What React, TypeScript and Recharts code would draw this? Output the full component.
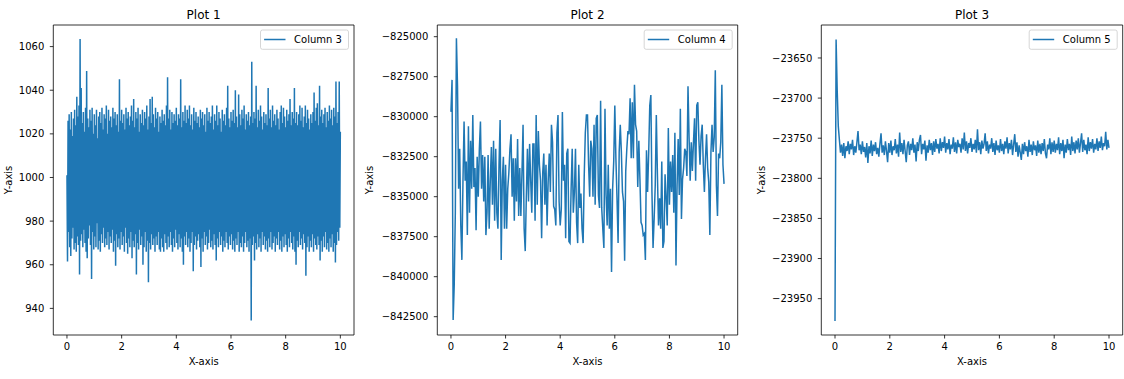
import { LineChart, Line, XAxis, YAxis, ReferenceArea } from 'recharts';

// evenly spaced x grid (0 .. 10); column 3 is sampled twice as finely
const COL3_STEP = 0.02;
const COL4_STEP = 0.04;
const COL5_STEP = 0.04;
const xTicks = [0, 2, 4, 6, 8, 10];

const col3 = [
  1001, 961.5, 1026, 975, 1029, 968, 1022, 964, 1030, 972, 1019, 977, 1027, 967, 1031, 970, 1024, 966, 1037, 973,
  1028, 969, 1033, 955.5, 1063.5, 971, 1041, 974, 1025, 968, 1030, 976, 1021, 970, 1032, 966, 1048.8, 963, 1027, 972,
  1023, 978, 1031, 969, 1026, 953.5, 1032, 975, 1020, 967, 1029, 973, 1024, 968, 1031, 979, 1018, 967, 1028, 971,
  1030, 966, 1025, 974, 1032, 970, 1022, 977, 1029, 968, 1027, 972, 1033, 969, 1020, 975, 1031, 967, 1026, 973,
  1028, 970, 1023, 976, 1032, 966, 1027, 971, 1030, 959.5, 1024, 974, 1029, 968, 1021, 972, 1045, 967, 1026, 975,
  1031, 969, 1025, 973, 1029, 966, 1022, 977, 1032, 970, 1027, 965, 1030, 972, 1024, 968, 1028, 975, 1033, 963,
  1026, 971, 1036, 968, 1023, 974, 1030, 955.5, 1027, 970, 1032, 967, 1021, 976, 1029, 969, 1025, 973, 1031, 960,
  1024, 968, 1030, 975, 1027, 966, 1033, 971, 1022, 952, 1028, 970, 1036, 967, 1025, 974, 1037, 969, 1029, 972,
  1023, 966, 1032, 973, 1027, 969, 1030, 975, 1021, 967, 1028, 966, 1025, 972, 1031, 968, 1026, 966, 1029, 974,
  1024, 970, 1033, 967, 1046, 973, 1027, 968, 1031, 975, 1022, 969, 1030, 966, 1025, 972, 1029, 968, 1026, 976,
  1032, 970, 1024, 967, 1029, 974, 1027, 968, 1045, 972, 1023, 966, 1030, 960, 1026, 973, 1033, 969, 1025, 975,
  1031, 968, 1027, 972, 1033, 966, 1024, 970, 1029, 975, 1022, 957, 1032, 969, 1026, 973, 1030, 967, 1025, 971,
  1028, 974, 1023, 968, 1031, 959, 1027, 972, 1030, 966, 1024, 975, 1029, 969, 1021, 973, 1032, 967, 1026, 970,
  1030, 976, 1025, 968, 1028, 971, 1033, 967, 1022, 974, 1029, 969, 1026, 962, 1033, 972, 1024, 968, 1030, 975,
  1027, 969, 1021, 973, 1031, 966, 1026, 971, 1029, 968, 1024, 975, 1032, 970, 1042, 967, 1027, 973, 1023, 969,
  1030, 974, 1026, 967, 1031, 971, 1025, 966, 1040, 972, 1028, 969, 1023, 975, 1038, 966, 1029, 970, 1024, 968,
  1031, 973, 1027, 966, 1033, 970, 1022, 975, 1029, 968, 1026, 971, 1030, 966, 1024, 972, 1028, 934.5, 1053, 969,
  1025, 973, 1030, 962, 1027, 970, 1042, 967, 1023, 974, 1031, 968, 1026, 972, 1033, 966, 1028, 975, 1022, 969,
  1030, 973, 1025, 967, 1029, 971, 1024, 966, 1041, 972, 1027, 968, 1031, 975, 1023, 967, 1033, 970, 1026, 973,
  1029, 966, 1024, 972, 1031, 969, 1027, 975, 1022, 967, 1030, 971, 1033, 966, 1025, 973, 1032, 968, 1028, 974,
  1023, 969, 1031, 966, 1026, 972, 1029, 968, 1036, 975, 1024, 970, 1030, 967, 1027, 973, 1041, 966, 1025, 960,
  1030, 971, 1024, 968, 1029, 975, 1033, 969, 1026, 972, 1032, 967, 1023, 974, 1028, 970, 1033, 955, 1025, 968,
  1031, 973, 1027, 966, 1022, 971, 1029, 968, 1025, 974, 1030, 966, 1039, 972, 1026, 969, 1032, 967, 1034, 973,
  1024, 969, 1042, 962, 1028, 971, 1031, 966, 1025, 973, 1029, 968, 1032, 975, 1023, 967, 1030, 970, 1026, 966,
  1033, 972, 1027, 968, 1031, 974, 1024, 966, 1032, 970, 1028, 961, 1044, 969, 1025, 975, 1030, 971, 1044, 977,
  1021,
];
const col3Ticks = [940, 960, 980, 1000, 1020, 1040, 1060];

const col4 = [
  -829700, -827700, -842700, -840500, -836000, -825100, -828100, -834500, -832000, -836800,
  -838950, -834000, -830300, -834000, -832800, -837400, -830600, -836000, -831500, -834500,
  -829900, -834400, -833200, -837100, -832500, -835000, -832000, -830300, -834500, -832400,
  -835300, -832500, -837400, -836000, -832400, -837000, -834000, -831900, -835500, -831500,
  -836500, -832000, -836000, -837000, -833000, -830200, -838950, -834000, -832500, -837000,
  -833000, -837000, -834500, -833500, -832000, -831100, -835000, -832600, -836500, -832600,
  -835300, -831400, -836200, -833200, -836200, -833500, -830500, -837000, -838400, -835000,
  -832000, -835300, -831700, -834000, -836000, -831700, -831700, -836500, -829900, -835500,
  -830900, -833000, -834000, -837600, -833500, -832300, -835500, -833000, -836800, -834000,
  -832300, -834700, -830500, -831600, -835600, -835800, -836800, -831000, -829900, -835300,
  -836800, -835800, -829700, -834000, -833000, -837600, -832300, -832000, -837800, -837900,
  -834500, -832000, -836000, -834700, -832000, -836600, -837900, -833000, -835700, -834800,
  -837000, -837900, -833700, -831000, -829900, -829900, -833000, -835000, -831500, -832000,
  -835000, -830500, -835500, -830100, -829900, -834900, -835700, -829000, -835700, -837000,
  -838200, -829500, -834900, -836800, -833000, -837000, -834500, -839700, -834500, -832800,
  -829300, -832600, -835100, -837900, -832200, -830500, -832200, -834700, -835300, -839000,
  -833400, -832000, -830900, -831100, -828850, -832600, -829100, -832600, -828000, -830500,
  -830900, -834400, -831500, -833900, -836600, -836800, -837400, -837300, -838950, -832100,
  -834700, -832300, -829300, -828650, -834700, -838200, -836400, -834300, -829900, -833600,
  -836800, -835100, -837000, -832800, -838200, -837800, -833600, -835100, -836800, -830700,
  -835500, -832800, -834700, -832400, -836000, -831000, -839300, -834300, -831400, -834900,
  -829500, -836400, -833900, -833200, -832000, -832200, -833700, -828100, -831300, -834000,
  -831600, -833400, -831600, -830100, -834000, -829300, -829100, -831500, -833000, -831200,
  -830500, -833000, -834700, -832600, -831100, -833200, -834100, -837400, -832200, -830500,
  -832200, -831300, -827100, -834300, -836200, -832300, -832600, -831600, -828000, -833000,
  -834200,
];
const col4Ticks = [-842500, -840000, -837500, -835000, -832500, -830000, -827500, -825000];

const col5 = [
  -23978, -23627, -23690, -23735, -23752, -23768, -23758, -23772, -23756, -23775,
  -23760, -23766, -23754, -23770, -23757, -23764, -23752, -23771, -23760, -23768,
  -23755, -23741, -23765, -23758, -23770, -23754, -23767, -23761, -23774, -23756,
  -23781, -23760, -23769, -23753, -23772, -23758, -23766, -23755, -23770, -23762,
  -23773, -23757, -23744, -23768, -23759, -23771, -23754, -23766, -23780, -23756,
  -23768, -23753, -23771, -23760, -23765, -23751, -23769, -23758, -23773, -23743,
  -23767, -23756, -23770, -23752, -23766, -23780, -23759, -23754, -23771, -23757,
  -23765, -23750, -23768, -23758, -23779, -23755, -23766, -23752, -23746, -23770,
  -23757, -23764, -23753, -23778, -23759, -23768, -23752, -23765, -23756, -23771,
  -23754, -23767, -23751, -23763, -23757, -23769, -23750, -23766, -23755, -23762,
  -23748, -23768, -23756, -23764, -23751, -23770, -23758, -23763, -23749, -23767,
  -23755, -23769, -23752, -23761, -23757, -23768, -23750, -23764, -23743, -23766,
  -23754, -23769, -23756, -23762, -23750, -23767, -23757, -23764, -23752, -23768,
  -23739, -23765, -23755, -23770, -23753, -23763, -23757, -23744, -23766, -23754,
  -23769, -23758, -23763, -23750, -23767, -23756, -23771, -23753, -23765, -23759,
  -23768, -23751, -23766, -23757, -23770, -23754, -23763, -23749, -23769, -23756,
  -23764, -23752, -23771, -23758, -23745, -23767, -23755, -23773, -23759, -23768,
  -23777, -23757, -23770, -23755, -23766, -23760, -23773, -23752, -23767, -23758,
  -23771, -23754, -23765, -23759, -23772, -23753, -23768, -23757, -23770, -23756,
  -23766, -23751, -23769, -23775, -23758, -23764, -23750, -23770, -23755, -23767,
  -23753, -23768, -23757, -23765, -23749, -23770, -23756, -23766, -23752, -23775,
  -23758, -23768, -23751, -23765, -23757, -23771, -23748, -23766, -23755, -23769,
  -23753, -23764, -23750, -23768, -23756, -23744, -23767, -23752, -23765, -23758,
  -23770, -23749, -23766, -23755, -23763, -23751, -23768, -23757, -23764, -23750,
  -23766, -23754, -23762, -23748, -23765, -23756, -23760, -23742, -23764, -23752,
  -23762,
];
const col5Ticks = [-23950, -23900, -23850, -23800, -23750, -23700, -23650];

const BLUE = '#1f77b4';
const FONT = '"DejaVu Sans", "Liberation Sans", sans-serif';
const HEIGHT = 379;
const TOP = 25;
const BOTTOM = 335;

const panels = [
  { title: 'Plot 1', name: 'Column 3', values: col3, step: COL3_STEP, ticks: col3Ticks, domain: [927.8, 1069.9], left: 0, width: 370, yAxisWidth: 53.3, marginRight: 16, yLabelX: 11.7 },
  { title: 'Plot 2', name: 'Column 4', values: col4, step: COL4_STEP, ticks: col4Ticks, domain: [-843644, -824269], left: 370, width: 375, yAxisWidth: 67.3, marginRight: 7.3, yLabelX: 373 },
  { title: 'Plot 3', name: 'Column 5', values: col5, step: COL5_STEP, ticks: col5Ticks, domain: [-23995.3, -23608.9], left: 745, width: 379, yAxisWidth: 76.3, marginRight: 1.3, yLabelX: 765 },
];

const fmt = (v: number) => (v < 0 ? '\u2212' + Math.abs(v) : String(v));

function Panel({ p }: { p: typeof panels[number] }) {
  const data = p.values.map((v, i) => ({ x: +(i * p.step).toFixed(2), y: v }));
  const tickStyle = { fill: '#000', fontSize: 10, fontFamily: FONT };
  return (
    <div style={{ position: 'absolute', left: p.left, top: 0 }}>
      <LineChart
        width={p.width}
        height={HEIGHT}
        data={data}
        margin={{ top: TOP, right: p.marginRight, bottom: HEIGHT - BOTTOM - 22, left: 0 }}
      >
        <XAxis
          type="number"
          dataKey="x"
          domain={[-0.5, 10.5]}
          allowDataOverflow
          ticks={xTicks}
          interval={0}
          axisLine={false}
          tickLine={{ stroke: '#000', strokeWidth: 0.8 }}
          tickSize={3.5}
          tickMargin={4.5}
          tick={tickStyle}
          height={22}
        />
        <YAxis
          type="number"
          dataKey="y"
          domain={p.domain}
          allowDataOverflow
          ticks={p.ticks}
          interval={0}
          axisLine={false}
          tickLine={{ stroke: '#000', strokeWidth: 0.8 }}
          tickSize={3.5}
          tickMargin={5.5}
          tick={tickStyle}
          tickFormatter={fmt}
          width={p.yAxisWidth}
        />
        <Line
          type="linear"
          dataKey="y"
          name={p.name}
          stroke={BLUE}
          strokeWidth={1.5}
          dot={false}
          isAnimationActive={false}
        />
        <ReferenceArea
          x1={-0.5}
          x2={10.5}
          y1={p.domain[0]}
          y2={p.domain[1]}
          fill="none"
          fillOpacity={0}
          stroke="#000"
          strokeWidth={0.8}
          ifOverflow="visible"
        />
      </LineChart>
    </div>
  );
}

// titles, axis labels and legends drawn on top, matplotlib-style
function Overlay() {
  return (
    <svg
      width={1124}
      height={HEIGHT}
      style={{ position: 'absolute', left: 0, top: 0, pointerEvents: 'none', fontFamily: FONT }}
    >
      {panels.map((p) => {
        const boxLeft = p.left + p.yAxisWidth;
        const boxRight = p.left + p.width - p.marginRight;
        const cx = (boxLeft + boxRight) / 2;
        const lx = boxRight - 93.5;
        return (
          <g key={p.title}>
            <text x={cx} y={19} textAnchor="middle" fontSize={12} fill="#000">{p.title}</text>
            <text x={cx} y={365} textAnchor="middle" fontSize={10} fill="#000">X-axis</text>
            <text
              x={p.yLabelX}
              y={(TOP + BOTTOM) / 2}
              textAnchor="middle"
              fontSize={10}
              fill="#000"
              transform={`rotate(-90 ${p.yLabelX} ${(TOP + BOTTOM) / 2})`}
            >
              Y-axis
            </text>
            <rect x={lx} y={30} width={88} height={19.3} rx={2} fill="#fff" fillOpacity={0.8} stroke="#cccccc" strokeWidth={0.8} />
            <line x1={lx + 3.6} x2={lx + 25} y1={39.5} y2={39.5} stroke={BLUE} strokeWidth={1.5} />
            <text x={lx + 33.6} y={43.3} fontSize={10} fill="#000">{p.name}</text>
          </g>
        );
      })}
    </svg>
  );
}

export default function App() {
  return (
    <div style={{ position: 'absolute', left: 0, top: 0, width: 1124, height: HEIGHT, background: '#fff', fontFamily: FONT }}>
      {panels.map((p) => (
        <Panel key={p.title} p={p} />
      ))}
      <Overlay />
    </div>
  );
}
